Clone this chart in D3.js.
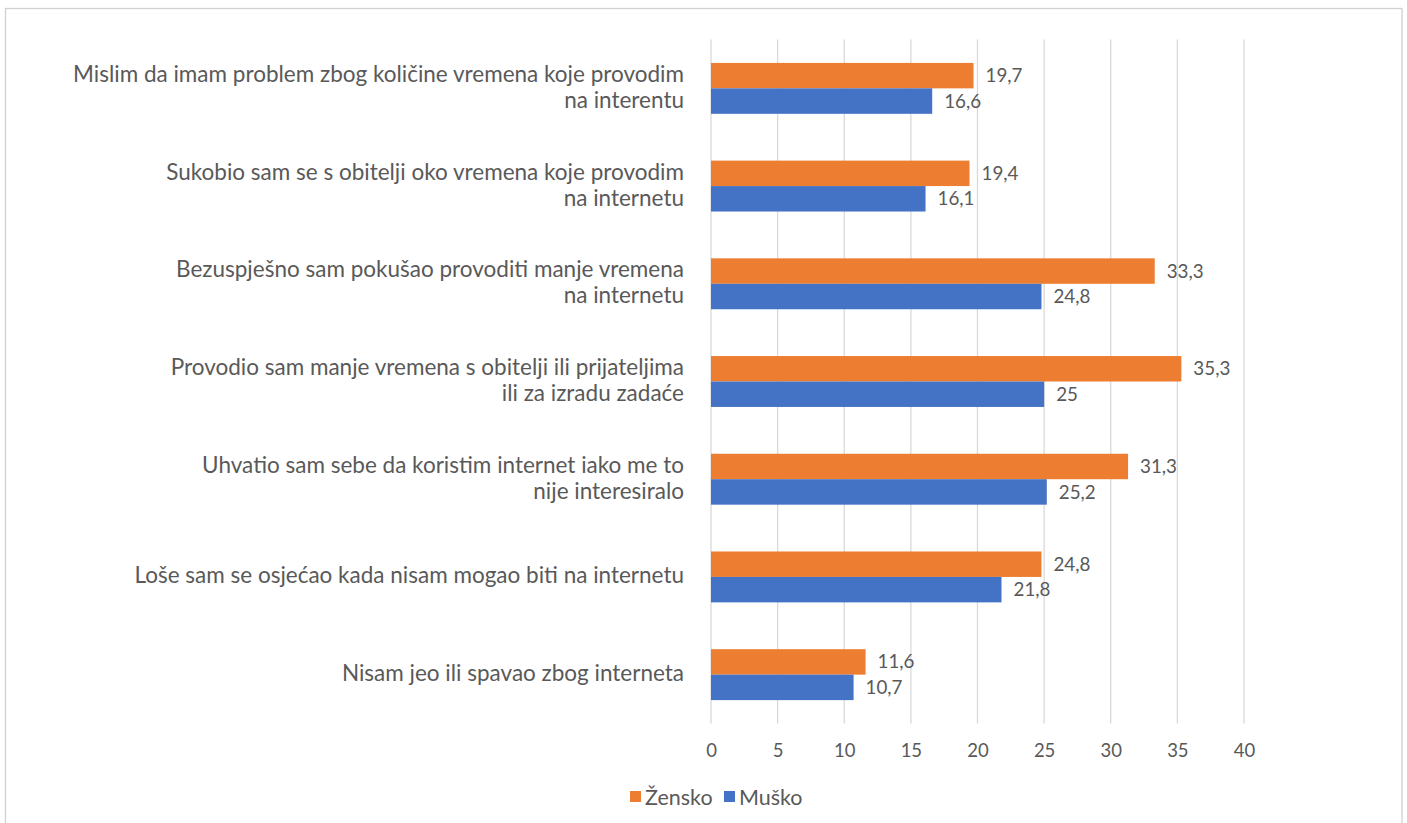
<!DOCTYPE html>
<html>
<head>
<meta charset="utf-8">
<script src="https://cdn.jsdelivr.net/npm/d3@7"></script>
<style>
  html, body { margin: 0; padding: 0; background: #ffffff; }
  svg { display: block; }
  text { font-family: Lato, "Noto Sans", sans-serif; fill: #595959; }
</style>
</head>
<body>
<svg id="chart" width="1407" height="823"></svg>
<script>
// ---- data ----
const categories = [
  "Mislim da imam problem zbog količine vremena koje provodim na interentu",
  "Sukobio sam se s obitelji oko vremena koje provodim na internetu",
  "Bezuspješno sam pokušao provoditi manje vremena na internetu",
  "Provodio sam manje vremena s obitelji ili prijateljima ili za izradu zadaće",
  "Uhvatio sam sebe da koristim internet iako me to nije interesiralo",
  "Loše sam se osjećao kada nisam mogao biti na internetu",
  "Nisam jeo ili spavao zbog interneta"
];
const categoryLines = [
  ["Mislim da imam problem zbog količine vremena koje provodim", "na interentu"],
  ["Sukobio sam se s obitelji oko vremena koje provodim", "na internetu"],
  ["Bezuspješno sam pokušao provoditi manje vremena", "na internetu"],
  ["Provodio sam manje vremena s obitelji ili prijateljima", "ili za izradu zadaće"],
  ["Uhvatio sam sebe da koristim internet iako me to", "nije interesiralo"],
  ["Loše sam se osjećao kada nisam mogao biti na internetu"],
  ["Nisam jeo ili spavao zbog interneta"]
];
const seriesNames = ["Žensko", "Muško"];
const zensko = [19.7, 19.4, 33.3, 35.3, 31.3, 24.8, 11.6];
const musko  = [16.6, 16.1, 24.8, 25, 25.2, 21.8, 10.7];
const tickValues = [0, 5, 10, 15, 20, 25, 30, 35, 40];
const colors = ["#ED7D31", "#4472C4"];

// ---- layout ----
const svg = d3.select("#chart");
const plot = { left: 711, right: 1244, top: 39.5, bottom: 723.5 };

svg.append("rect")
  .attr("x", 5.5).attr("y", 8.5)
  .attr("width", 1396.5).attr("height", 840)
  .attr("fill", "none").attr("stroke", "#d0d0d0").attr("stroke-width", 1.3);

const x = d3.scaleLinear().domain([0, 40]).range([plot.left, plot.right]);
const y0 = d3.scaleBand().domain(categories)
  .range([plot.top, plot.bottom])
  .paddingInner(0.479).paddingOuter(0.2395);
const y1 = d3.scaleBand().domain(seriesNames).range([0, y0.bandwidth()]);

// gridlines
svg.append("g").selectAll("line").data(tickValues).join("line")
  .attr("x1", d => x(d)).attr("x2", d => x(d))
  .attr("y1", plot.top).attr("y2", plot.bottom)
  .attr("stroke", "#d9d9d9").attr("stroke-width", 1.3);

// x-axis tick labels via d3 axis
const xAxis = d3.axisBottom(x).tickValues(tickValues).tickSize(0).tickPadding(0)
  .tickFormat(d3.format("d"));
const gx = svg.append("g").attr("transform", `translate(0,${plot.bottom})`).call(xAxis);
gx.select(".domain").remove();
gx.selectAll("text")
  .attr("y", 27).attr("dy", "0.35em")
  .style("font-family", "Lato, sans-serif")
  .style("font-size", "18.5px").attr("fill", "#595959");

// bars
const rows = categories.map((c, i) => ({ cat: c, vals: [zensko[i], musko[i]] }));
const groups = svg.append("g").selectAll("g").data(rows).join("g")
  .attr("transform", d => `translate(0,${y0(d.cat)})`);

groups.selectAll("rect").data(d => d.vals.map((v, j) => ({ s: seriesNames[j], v, j })))
  .join("rect")
  .attr("x", x(0))
  .attr("y", d => y1(d.s))
  .attr("width", d => x(d.v) - x(0))
  .attr("height", y1.bandwidth())
  .attr("fill", d => colors[d.j]);

const fmt = v => String(v).replace(".", ",");
groups.selectAll("text.val").data(d => d.vals.map((v, j) => ({ s: seriesNames[j], v, j })))
  .join("text").attr("class", "val")
  .attr("x", d => x(d.v) + 12)
  .attr("y", d => y1(d.s) + y1.bandwidth() / 2)
  .attr("dy", "0.35em")
  .style("font-size", "18.8px")
  .text(d => fmt(d.v));

// category labels
const catG = svg.append("g");
const labelSize = 22.5;
categories.forEach((c, i) => {
  const lines = categoryLines[i];
  const cy = y0(c) + y0.bandwidth() / 2;
  const t = catG.append("text")
    .attr("text-anchor", "end")
    .style("font-size", labelSize + "px");
  lines.forEach((ln, k) => {
    const off = (k - (lines.length - 1) / 2) * 26;
    t.append("tspan").attr("x", 684).attr("y", cy + off).attr("dy", "0.29em").text(ln);
  });
});

// legend
const legend = svg.append("g");
const legItems = [{ name: seriesNames[0], c: colors[0], x: 630 }, { name: seriesNames[1], c: colors[1], x: 724 }];
legItems.forEach(it => {
  legend.append("rect").attr("x", it.x).attr("y", 791).attr("width", 11).attr("height", 11).attr("fill", it.c);
  legend.append("text").attr("x", it.x + 15).attr("y", 797).attr("dy", "0.35em")
    .style("font-size", "21.5px").text(it.name);
});
</script>
</body>
</html>
